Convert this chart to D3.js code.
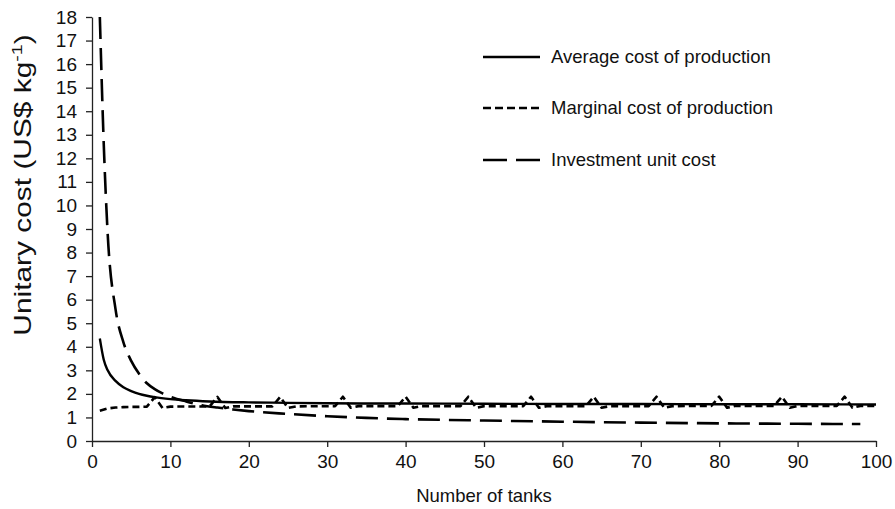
<!DOCTYPE html>
<html>
<head>
<meta charset="utf-8">
<script src="https://cdn.jsdelivr.net/npm/d3@7/dist/d3.min.js"></script>
<style>
  html, body { margin: 0; padding: 0; background: #fff; }
  svg { display: block; font-family: "Liberation Sans", Arial, sans-serif; }
</style>
</head>
<body>
<svg id="chart" width="895" height="509"></svg>
<script>
// ---- Data ----
const xTicks = [0, 10, 20, 30, 40, 50, 60, 70, 80, 90, 100];
const yTicks = [0, 1, 2, 3, 4, 5, 6, 7, 8, 9, 10, 11, 12, 13, 14, 15, 16, 17, 18];

const seriesNames = ["Average cost of production", "Marginal cost of production", "Investment unit cost"];

const averageX = [1, 1.5, 2, 3, 4, 5, 6, 7, 8, 10, 12, 15, 20, 25, 30, 40, 50, 60, 70, 80, 90, 100];
const averageY = [4.35, 3.45, 3.0, 2.55, 2.28, 2.12, 2.0, 1.92, 1.86, 1.78, 1.73, 1.68, 1.64, 1.62, 1.6, 1.59, 1.58, 1.57, 1.57, 1.56, 1.56, 1.55];

const marginalX = [1, 2, 3, 4, 5, 6, 7, 8, 9, 10,
  15, 16, 17, 18, 23, 24, 25, 26, 31, 32, 33, 34, 39, 40, 41, 42,
  47, 48, 49, 50, 55, 56, 57, 58, 63, 64, 65, 66, 71, 72, 73, 74,
  79, 80, 81, 82, 87, 88, 89, 90, 95, 96, 97, 98, 100];
const marginalY = [1.28, 1.38, 1.42, 1.44, 1.45, 1.45, 1.46, 1.86, 1.40, 1.46,
  1.47, 1.87, 1.40, 1.47, 1.47, 1.87, 1.40, 1.47, 1.48, 1.88, 1.41, 1.48, 1.48, 1.88, 1.41, 1.48,
  1.48, 1.88, 1.41, 1.48, 1.48, 1.88, 1.41, 1.48, 1.48, 1.88, 1.41, 1.48, 1.48, 1.88, 1.41, 1.48,
  1.49, 1.88, 1.41, 1.49, 1.49, 1.88, 1.41, 1.49, 1.49, 1.88, 1.41, 1.49, 1.49];

const investX = [1, 1.5, 2, 3, 4, 5, 6, 7, 8, 9, 10, 12, 14, 16, 18, 20, 25, 30, 35, 40, 50, 60, 70, 80, 90, 98];
const investY = [18, 12.6, 8.8, 5.6, 4.2, 3.4, 2.85, 2.45, 2.2, 2.02, 1.88, 1.68, 1.52, 1.42, 1.34, 1.27, 1.15, 1.05, 0.98, 0.93, 0.87, 0.82, 0.78, 0.75, 0.73, 0.72];

// ---- Layout ----
const svg = d3.select("#chart");
const margin = { left: 92, top: 17, right: 19, bottom: 68 };
const W = 895, H = 509;
const x = d3.scaleLinear().domain([0, 100]).range([margin.left, W - margin.right]);
const y = d3.scaleLinear().domain([0, 18]).range([H - margin.bottom, margin.top]);

const tickFont = 19;

// Axes
const xAxis = svg.append("g")
  .attr("transform", `translate(0,${y(0)})`)
  .call(d3.axisBottom(x).tickValues(xTicks).tickSizeOuter(0).tickSizeInner(6).tickPadding(8));
const yAxis = svg.append("g")
  .attr("transform", `translate(${x(0)},0)`)
  .call(d3.axisLeft(y).tickValues(yTicks).tickSizeOuter(0).tickSizeInner(6).tickPadding(9));

[xAxis, yAxis].forEach(g => {
  g.selectAll("path.domain").attr("stroke", "#222").attr("stroke-width", 1.3);
  g.selectAll(".tick line").attr("stroke", "#222").attr("stroke-width", 1.3);
  g.selectAll(".tick text").attr("fill", "#111").attr("font-size", tickFont)
    .attr("font-family", "'Liberation Sans', Arial, sans-serif");
});

// Lines
const line = d3.line().x(d => x(d[0])).y(d => y(d[1]));
const smooth = d3.line().x(d => x(d[0])).y(d => y(d[1])).curve(d3.curveMonotoneX);

const avgData = averageX.map((v, i) => [v, averageY[i]]);
const margData = marginalX.map((v, i) => [v, marginalY[i]]);
const invData = investX.map((v, i) => [v, investY[i]]);

svg.append("path").datum(invData).attr("d", smooth)
  .attr("fill", "none").attr("stroke", "#000").attr("stroke-width", 2.6)
  .attr("stroke-dasharray", "22,9");

svg.append("path").datum(margData).attr("d", line)
  .attr("fill", "none").attr("stroke", "#000").attr("stroke-width", 2.6)
  .attr("stroke-linejoin", "round")
  .attr("stroke-dasharray", "7,4");

svg.append("path").datum(avgData).attr("d", smooth)
  .attr("fill", "none").attr("stroke", "#000").attr("stroke-width", 2.4);

// Legend
const legendDash = [null, "8,4", "24,9"];
const legendY = [57, 108, 160];
seriesNames.forEach((name, i) => {
  svg.append("line")
    .attr("x1", 483).attr("x2", 540)
    .attr("y1", legendY[i]).attr("y2", legendY[i])
    .attr("stroke", "#000").attr("stroke-width", 2.6)
    .attr("stroke-dasharray", legendDash[i]);
  svg.append("text")
    .attr("x", 551).attr("y", legendY[i])
    .attr("dy", "0.35em")
    .attr("font-size", 18.5)
    .attr("fill", "#111")
    .text(name);
});

// Axis titles
svg.append("text")
  .attr("x", (x(0) + x(100)) / 2).attr("y", 502)
  .attr("text-anchor", "middle")
  .attr("font-size", 18.5).attr("fill", "#111")
  .text("Number of tanks");

const yt = svg.append("text")
  .attr("transform", `translate(31,185) rotate(-90) scale(1.3,1)`)
  .attr("text-anchor", "middle")
  .attr("font-size", 23).attr("fill", "#111");
yt.append("tspan").text("Unitary cost (US$ kg");
yt.append("tspan").attr("font-size", 15).attr("dy", -9).text("-1");
yt.append("tspan").attr("dy", 9).text(")");
</script>
</body>
</html>
